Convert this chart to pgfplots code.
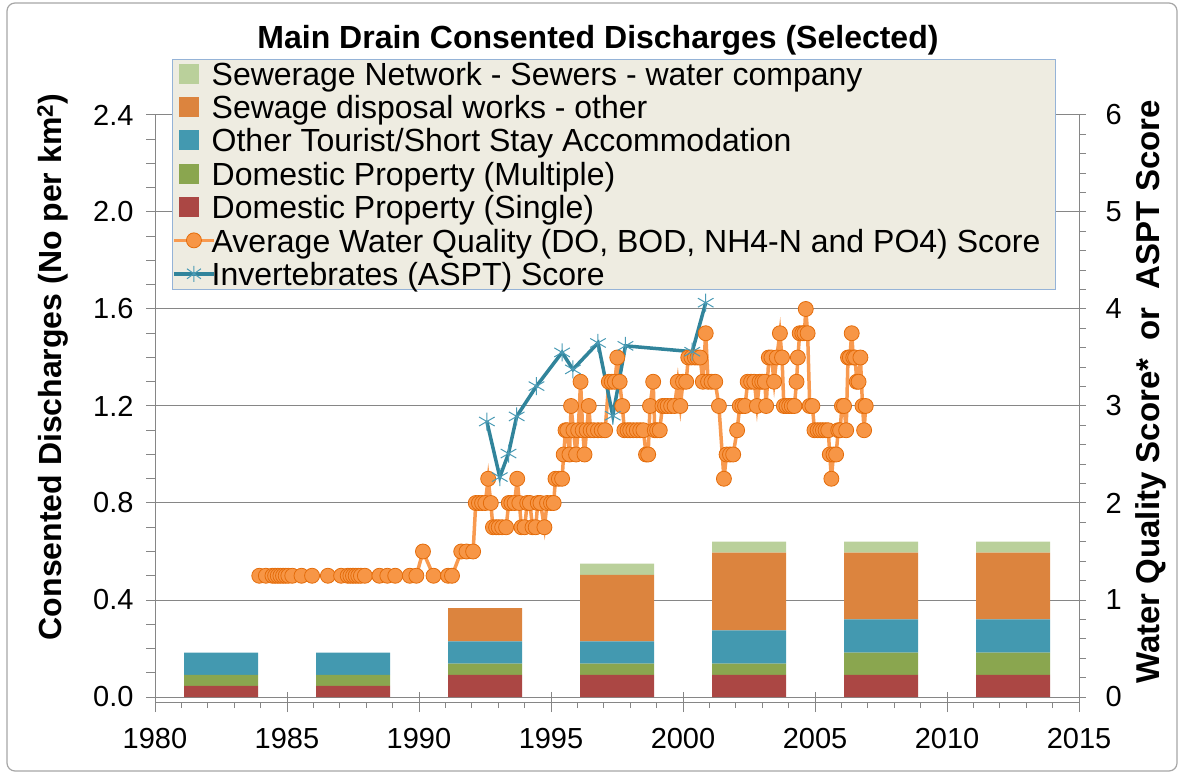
\documentclass[border=0pt]{standalone}
\usepackage{pgfplots}
\usepackage{pgfplotstable}
\pgfplotsset{compat=1.18}
\usepackage{fontspec}
\setmainfont{Liberation Sans}
\definecolor{cRed}{HTML}{AB4744}
\definecolor{cGreen}{HTML}{8AA64F}
\definecolor{cBlue}{HTML}{4399B0}
\definecolor{cOrange}{HTML}{DC843E}
\definecolor{cLGreen}{HTML}{BAD09B}
\definecolor{wqFill}{HTML}{F79646}
\definecolor{wqEdge}{HTML}{E46C0A}
\definecolor{wqLine}{HTML}{F89A50}
\definecolor{invLine}{HTML}{31849B}
\definecolor{invMark}{HTML}{4A9BB5}
\definecolor{axGray}{HTML}{868686}
\definecolor{legFill}{HTML}{EEECE1}
\definecolor{legDraw}{HTML}{95B3D7}

\pgfplotstableread{
x      single multiple tourist sewage sewerage
1982.5 0.0458 0.0458 0.0916 0      0
1987.5 0.0458 0.0458 0.0916 0      0
1992.5 0.0916 0.0458 0.0916 0.1374 0
1997.5 0.0916 0.0458 0.0916 0.2748 0.0458
2002.5 0.0916 0.0458 0.1374 0.3206 0.0458
2007.5 0.0916 0.0916 0.1374 0.2748 0.0458
2012.5 0.0916 0.0916 0.1374 0.2748 0.0458
}\bars

\pgfplotstableread{
x y
1992.57 1.136
1993.06 0.907
1993.39 1.004
1993.70 1.157
1994.45 1.282
1995.42 1.421
1995.83 1.351
1996.78 1.460
1997.34 1.160
1997.82 1.448
2000.35 1.424
2000.86 1.626
}\invert

\pgfplotstableread{
x y
1983.95 0.5
1984.20 0.5
1984.45 0.5
1984.55 0.5
1984.65 0.5
1984.75 0.5
1984.85 0.5
1984.95 0.5
1985.05 0.5
1985.20 0.5
1985.55 0.5
1985.95 0.5
1986.55 0.5
1987.05 0.5
1987.30 0.5
1987.40 0.5
1987.50 0.5
1987.60 0.5
1987.70 0.5
1987.80 0.5
1987.95 0.5
1988.50 0.5
1988.80 0.5
1989.10 0.5
1989.65 0.5
1989.90 0.5
1990.15 0.6
1990.55 0.5
1991.10 0.5
1991.25 0.5
1991.60 0.6
1991.80 0.6
1992.05 0.6
1992.15 0.8
1992.27 0.8
1992.39 0.8
1992.51 0.8
1992.62 0.9
1992.72 0.8
1992.80 0.7
1992.92 0.7
1993.02 0.7
1993.15 0.7
1993.30 0.7
1993.40 0.8
1993.50 0.8
1993.62 0.8
1993.72 0.9
1993.80 0.8
1993.88 0.7
1994.00 0.7
1994.10 0.8
1994.20 0.8
1994.30 0.7
1994.42 0.7
1994.50 0.8
1994.60 0.8
1994.75 0.7
1994.85 0.8
1995.00 0.8
1995.10 0.8
1995.17 0.9
1995.30 0.9
1995.42 0.9
1995.48 1.0
1995.55 1.1
1995.62 1.1
1995.70 1.0
1995.76 1.2
1995.85 1.1
1995.95 1.0
1996.03 1.1
1996.12 1.3
1996.20 1.1
1996.27 1.0
1996.35 1.1
1996.43 1.2
1996.50 1.1
1996.62 1.1
1996.78 1.1
1996.92 1.1
1997.05 1.1
1997.19 1.3
1997.30 1.3
1997.42 1.3
1997.51 1.4
1997.60 1.3
1997.70 1.2
1997.78 1.1
1997.90 1.1
1998.00 1.1
1998.12 1.1
1998.25 1.1
1998.38 1.1
1998.50 1.1
1998.60 1.0
1998.68 1.0
1998.75 1.2
1998.87 1.3
1998.93 1.1
1999.02 1.1
1999.12 1.1
1999.22 1.2
1999.32 1.2
1999.42 1.2
1999.55 1.2
1999.68 1.2
1999.80 1.3
1999.90 1.2
2000.00 1.3
2000.12 1.3
2000.20 1.4
2000.32 1.4
2000.45 1.4
2000.55 1.4
2000.65 1.4
2000.75 1.3
2000.86 1.5
2000.95 1.3
2001.08 1.3
2001.22 1.3
2001.36 1.2
2001.55 0.9
2001.65 1.0
2001.78 1.0
2001.90 1.0
2002.05 1.1
2002.15 1.2
2002.25 1.2
2002.35 1.2
2002.45 1.3
2002.58 1.3
2002.70 1.3
2002.80 1.2
2002.90 1.3
2003.00 1.3
2003.10 1.3
2003.15 1.2
2003.25 1.4
2003.35 1.4
2003.45 1.3
2003.55 1.4
2003.67 1.5
2003.75 1.4
2003.82 1.2
2003.92 1.2
2004.02 1.2
2004.12 1.2
2004.22 1.2
2004.30 1.3
2004.35 1.4
2004.42 1.5
2004.52 1.5
2004.60 1.5
2004.65 1.6
2004.72 1.5
2004.80 1.2
2004.90 1.2
2004.98 1.1
2005.10 1.1
2005.20 1.1
2005.30 1.1
2005.40 1.1
2005.50 1.1
2005.56 1.0
2005.62 0.9
2005.70 1.0
2005.80 1.0
2005.88 1.1
2005.95 1.1
2006.02 1.2
2006.10 1.2
2006.18 1.1
2006.25 1.4
2006.32 1.4
2006.39 1.5
2006.45 1.4
2006.52 1.4
2006.58 1.3
2006.65 1.3
2006.72 1.4
2006.80 1.2
2006.86 1.1
2006.92 1.2
}\wq

\begin{document}
\begin{tikzpicture}[x=1pt,y=1pt]
\useasboundingbox (0,0) rectangle (1183,774);
\draw[black!35, line width=1.2pt, rounded corners=8pt] (7,3) rectangle (1177,771);

% bars, left axis, grid
\begin{axis}[
  at={(155pt,77pt)}, anchor=south west, scale only axis,
  width=924pt, height=582pt,
  xmin=1980, xmax=2015, ymin=0, ymax=2.4,
  ybar stacked, bar width=74pt,
  axis x line*=bottom, axis y line*=left,
  axis line style={draw=axGray, line width=1pt},
  xtick=\empty,
  ytick={0,0.4,0.8,1.2,1.6,2.0,2.4}, minor y tick num=3,
  tick align=outside, major tick length=9pt, minor tick length=9pt,
  tick style={draw=axGray, line width=1pt},
  ymajorgrids, grid style={draw=axGray, line width=1pt},
  yticklabel style={/pgf/number format/.cd, fixed, fixed zerofill, precision=1, assume math mode=true, /tikz/.cd, xshift=-9pt},
  ticklabel style={font=\fontsize{29}{32}\selectfont},
]
\addplot[fill=cRed, draw=none] table[x=x, y=single]{\bars};
\addplot[fill=cGreen, draw=none] table[x=x, y=multiple]{\bars};
\addplot[fill=cBlue, draw=none] table[x=x, y=tourist]{\bars};
\addplot[fill=cOrange, draw=none] table[x=x, y=sewage]{\bars};
\addplot[fill=cLGreen, draw=none] table[x=x, y=sewerage]{\bars};
\end{axis}

% x axis
\begin{axis}[
  at={(155pt,77pt)}, anchor=south west, scale only axis,
  width=924pt, height=582pt,
  xmin=1980, xmax=2015, ymin=0, ymax=1,
  axis x line*=bottom, axis y line=none,
  x axis line style={draw=axGray, line width=1pt, yshift=-5pt},
  xtick={1980,1985,...,2015}, minor x tick num=4,
  tick align=center, major tick length=20pt, minor tick length=6pt,
  tick style={draw=axGray, line width=1pt},
  every major tick/.append style={yshift=-5pt},
  every minor tick/.append style={yshift=-8pt},
  xticklabel style={font=\fontsize{29}{32}\selectfont, /pgf/number format/1000 sep={}, /pgf/number format/assume math mode=true, yshift=-18pt},
]
\end{axis}

\filldraw[fill=legFill, draw=legDraw, line width=1pt] (172,484) rectangle (1055,714);

% lines, right axis, legend
\begin{axis}[
  at={(155pt,77pt)}, anchor=south west, scale only axis,
  width=924pt, height=582pt,
  xmin=1980, xmax=2015, ymin=0, ymax=2.4,
  hide x axis, axis y line*=right,
  axis line style={draw=axGray, line width=1pt},
  ytick={0,0.4,0.8,1.2,1.6,2.0,2.4}, yticklabels={0,1,2,3,4,5,6},
  minor y tick num=4,
  tick align=outside, major tick length=7pt, minor tick length=7pt,
  tick style={draw=axGray, line width=1pt},
  yticklabel style={font=\fontsize{29}{32}\selectfont, xshift=16pt},
  legend cell align=left,
  legend style={at={(0.0184,1.098)}, anchor=north west, draw=none, fill=none,
    inner sep=0pt, row sep=0pt, column sep=-4pt,
    nodes={inner sep=0pt, text height=26.9pt, text depth=6.5pt, font=\fontsize{32}{33}\selectfont}},
]
\addlegendimage{legend image code/.code={\fill[cLGreen] (5pt,-8pt) rectangle (24pt,11pt);}}
\addlegendimage{legend image code/.code={\fill[cOrange] (5pt,-8pt) rectangle (24pt,11pt);}}
\addlegendimage{legend image code/.code={\fill[cBlue] (5pt,-8pt) rectangle (24pt,11pt);}}
\addlegendimage{legend image code/.code={\fill[cGreen] (5pt,-8pt) rectangle (24pt,11pt);}}
\addlegendimage{legend image code/.code={\fill[cRed] (5pt,-8pt) rectangle (24pt,11pt);}}
\addlegendimage{legend image code/.code={\draw[wqLine, line width=3.5pt] (0pt,1.5pt) -- (40pt,1.5pt); \filldraw[fill=wqFill, draw=wqEdge, line width=0.8pt] (20pt,1.5pt) circle (7.5pt);}}
\addlegendimage{legend image code/.code={\draw[invLine, line width=3.5pt] (0pt,1.5pt) -- (40pt,1.5pt); \draw[invMark, line width=1pt] (20pt,-6.5pt) -- (20pt,9.5pt) (13pt,-3.5pt) -- (27pt,6.5pt) (13pt,6.5pt) -- (27pt,-3.5pt);}}
\addplot[wqLine, line width=3.5pt, mark=*, mark size=7.5pt,
  mark options={fill=wqFill, draw=wqEdge, line width=0.8pt}] table[x=x, y=y]{\wq};
\addplot[invLine, line width=3.5pt, mark=asterisk, mark size=9pt,
  mark options={draw=invMark, line width=1pt}] table[x=x, y=y]{\invert};
\legend{Sewerage Network - Sewers - water company, Sewage disposal works - other, Other Tourist/Short Stay Accommodation, Domestic Property (Multiple), Domestic Property (Single), Average Water Quality (DO{,} BOD{,} NH4-N and PO4) Score, Invertebrates (ASPT) Score}
\end{axis}

\node[font=\bfseries\fontsize{32}{36}\selectfont] at (598,734) {Main Drain Consented Discharges (Selected)};
\node[rotate=90, font=\bfseries\fontsize{32}{36}\selectfont] at (53,407) {Consented Discharges (No per km\textsuperscript{2})};
\node[rotate=90, font=\bfseries\fontsize{33}{36}\selectfont] at (1151,382) {Water Quality Score*\ \ or\ \ ASPT Score};
\end{tikzpicture}
\end{document}
